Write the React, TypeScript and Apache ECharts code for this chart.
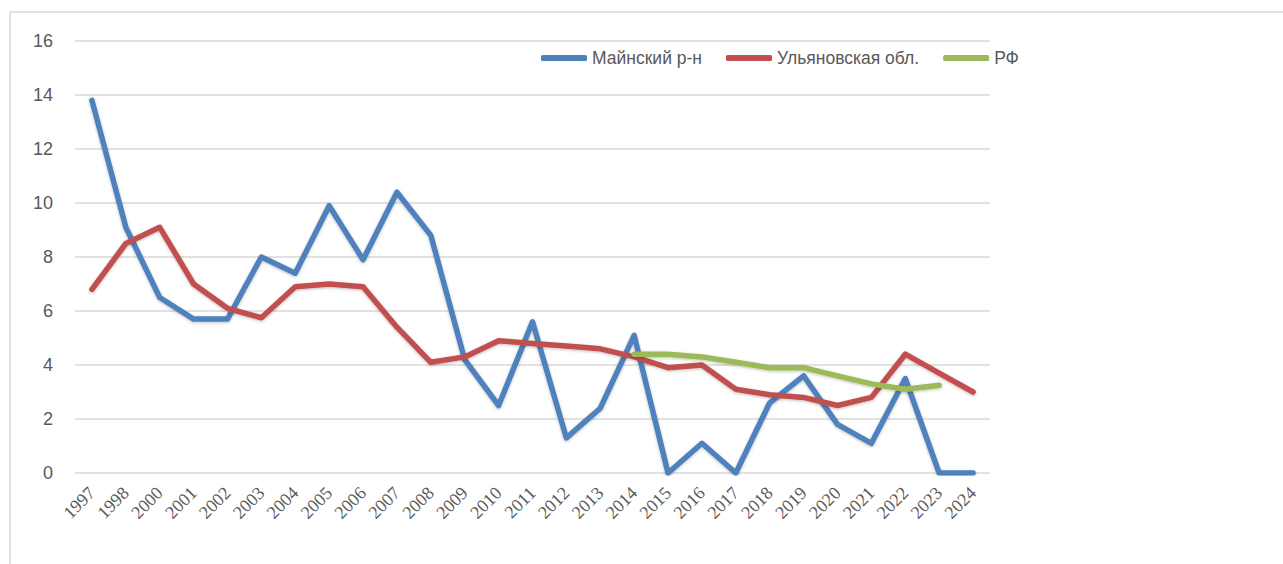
import React, { useEffect, useRef } from "react";
import * as echarts from "echarts";

const years = ["1997","1998","2000","2001","2002","2003","2004","2005","2006","2007","2008","2009","2010","2011","2012","2013","2014","2015","2016","2017","2018","2019","2020","2021","2022","2023","2024"];
const mainsky = [13.8,9.1,6.5,5.7,5.7,8.0,7.4,9.9,7.9,10.4,8.8,4.2,2.5,5.6,1.3,2.4,5.1,0,1.1,0,2.6,3.6,1.8,1.1,3.5,0,0];
const ulyanovsk = [6.8,8.5,9.1,7.0,6.1,5.75,6.9,7.0,6.9,5.4,4.1,4.3,4.9,4.8,4.7,4.6,4.3,3.9,4.0,3.1,2.9,2.8,2.5,2.8,4.4,3.7,3.0];
const rf = [null,null,null,null,null,null,null,null,null,null,null,null,null,null,null,null,4.4,4.4,4.3,4.1,3.9,3.9,3.6,3.3,3.1,3.25,null];
const seriesNames = ["Майнский р-н", "Ульяновская обл.", "РФ"];
const colors = ["#4F81BD", "#C0504D", "#9BBB59"];

export default function App() {
  const ref = useRef<HTMLDivElement>(null);
  useEffect(() => {
    const chart = echarts.init(ref.current!, null, { renderer: "svg" });
    const mk = (name: string, data: any[], color: string) => ({
      name,
      type: "line",
      data,
      symbol: "none",
      connectNulls: false,
      lineStyle: { color, width: 5.5, cap: "round", join: "round", shadowColor: "rgba(0,0,0,0.25)", shadowBlur: 3, shadowOffsetY: 1 },
      itemStyle: { color },
    });
    chart.setOption({
      animation: false,
      color: colors,
      graphic: [
        { type: "rect", shape: { x: 10, y: 12, width: 1320, height: 620 }, style: { fill: "none", stroke: "#d9d9d9", lineWidth: 1.5 } },
      ],
      legend: {
        top: 44,
        left: 536,
        itemWidth: 46,
        itemHeight: 6,
        itemGap: 24,
        icon: "roundRect",
        textStyle: { fontFamily: "Liberation Sans", fontSize: 17.5, color: "#595959" },
        data: seriesNames,
      },
      grid: { left: 75, right: 293, top: 41, bottom: 91, containLabel: false },
      xAxis: {
        type: "category",
        data: years,
        boundaryGap: true,
        axisLine: { show: false },
        axisTick: { show: false },
        axisLabel: { interval: 0, rotate: 45, margin: 17, fontFamily: "Liberation Serif", fontSize: 18, color: "#595959" },
      },
      yAxis: {
        type: "value",
        min: 0,
        max: 16,
        interval: 2,
        axisLine: { show: false },
        axisTick: { show: false },
        axisLabel: { margin: 22, fontFamily: "Liberation Sans", fontSize: 18, color: "#595959" },
        splitLine: { lineStyle: { color: "#d9d9d9", width: 1.5 } },
      },
      series: [
        mk(seriesNames[0], mainsky, colors[0]),
        mk(seriesNames[1], ulyanovsk, colors[1]),
        mk(seriesNames[2], rf, colors[2]),
      ],
    });
    return () => chart.dispose();
  }, []);
  return <div ref={ref} style={{ position: "fixed", left: 0, top: 0, width: 1283, height: 564, background: "#fff" }} />;
}
